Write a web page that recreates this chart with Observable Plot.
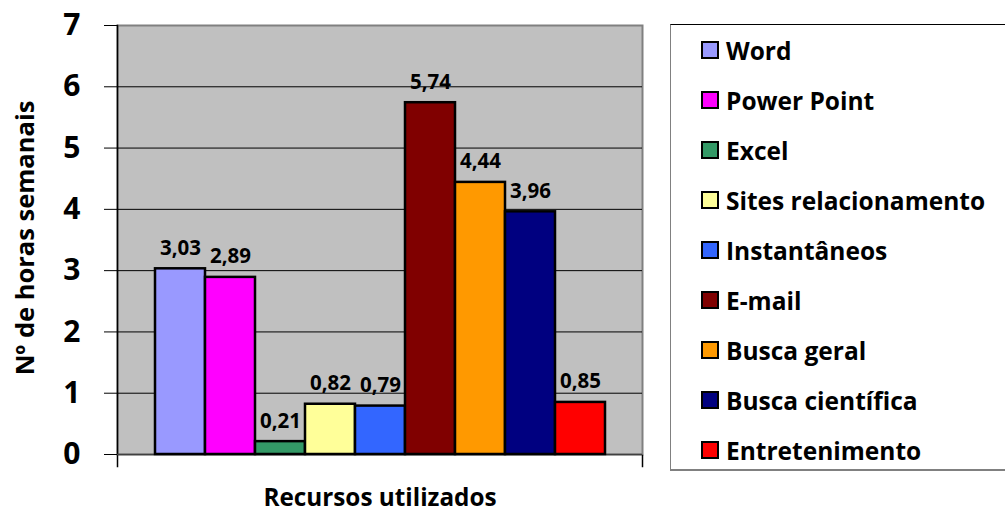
<!DOCTYPE html>
<html>
<head>
<meta charset="utf-8">
<script src="https://cdn.jsdelivr.net/npm/d3@7"></script>
<script src="https://cdn.jsdelivr.net/npm/@observablehq/plot@0.6"></script>
<style>
  html, body { margin: 0; padding: 0; background: #fff; }
  #wrap { position: relative; width: 1005px; height: 511px; overflow: hidden; font-family: "Open Sans", sans-serif; font-weight: bold; }
  #legend { position: absolute; left: 670px; top: 24px; width: 345px; height: 447px; box-sizing: border-box;
            border-top: 1.5px solid #000; border-left: 1.5px solid #808080; border-bottom: 2px solid #808080; }
  .row { height: 50px; display: flex; align-items: center; padding-left: 30px; font-size: 24.5px; color: #000; }
  .sw { width: 14px; height: 14px; border: 2px solid #000; margin-right: 7px; flex: none; }
</style>
</head>
<body>
<div id="wrap"></div>
<script>
const categories = ["Word", "Power Point", "Excel", "Sites relacionamento", "Instantâneos", "E-mail", "Busca geral", "Busca científica", "Entretenimento"];
const values = [3.03, 2.89, 0.21, 0.82, 0.79, 5.74, 4.44, 3.96, 0.85];
const colors = ["#9999FF", "#FF00FF", "#339966", "#FFFF99", "#3366FF", "#800000", "#FF9900", "#000080", "#FF0000"];
const yTicks = [0, 1, 2, 3, 4, 5, 6, 7];
const xTitle = "Recursos utilizados";
const yTitle = "Nº de horas semanais";

const data = categories.map((name, i) => ({name, value: values[i]}));
const fmt = v => v.toFixed(2).replace(".", ",");

const chart = Plot.plot({
  width: 1005,
  height: 511,
  marginLeft: 117,
  marginRight: 363,
  marginTop: 25,
  marginBottom: 57,
  style: {fontFamily: "'Open Sans', sans-serif", fontWeight: "bold", color: "#000", background: "transparent"},
  x: {type: "band", domain: categories, paddingInner: 0, paddingOuter: 0.74, axis: null},
  y: {domain: [0, 7], axis: null},
  color: {domain: categories, range: colors},
  marks: [
    Plot.frame({fill: "#c0c0c0", stroke: "#808080", strokeWidth: 2}),
    Plot.ruleY(yTicks.filter(t => t > 0 && t < 7), {stroke: "#000", strokeWidth: 1}),
    Plot.frame({anchor: "left", stroke: "#000", strokeWidth: 1.5, insetBottom: -12}),
    Plot.frame({anchor: "right", stroke: "#000", strokeWidth: 1.5, insetBottom: -12, insetTop: 430}),
    Plot.ruleY([0], {stroke: "#404040", strokeWidth: 1.5}),
    Plot.axisY({ticks: yTicks, tickSize: 13, tickPadding: 24, fontSize: 30, fontWeight: "bold", label: null, tickFormat: d => String(d)}),
    Plot.barY(data, {x: "name", y: "value", fill: "name", stroke: "#000", strokeWidth: 2.5}),
    Plot.text(data, {x: "name", y: "value", text: d => fmt(d.value), lineAnchor: "bottom", dy: -14, fontSize: 20.5, fontWeight: "bold", fill: "#000"}),
    Plot.text([xTitle], {frameAnchor: "bottom", dy: 51, fontSize: 24.3, fontWeight: "bold", fill: "#000"}),
    Plot.text([yTitle], {frameAnchor: "left", textAnchor: "middle", rotate: -90, dx: -92, dy: -2, fontSize: 25.5, fontWeight: "bold", fill: "#000"})
  ]
});

const wrap = document.getElementById("wrap");
wrap.appendChild(chart);

const legend = document.createElement("div");
legend.id = "legend";
categories.forEach((c, i) => {
  const row = document.createElement("div");
  row.className = "row";
  const sw = document.createElement("span");
  sw.className = "sw";
  sw.style.background = colors[i];
  const label = document.createElement("span");
  label.textContent = c;
  row.appendChild(sw);
  row.appendChild(label);
  legend.appendChild(row);
});
wrap.appendChild(legend);
</script>
</body>
</html>
